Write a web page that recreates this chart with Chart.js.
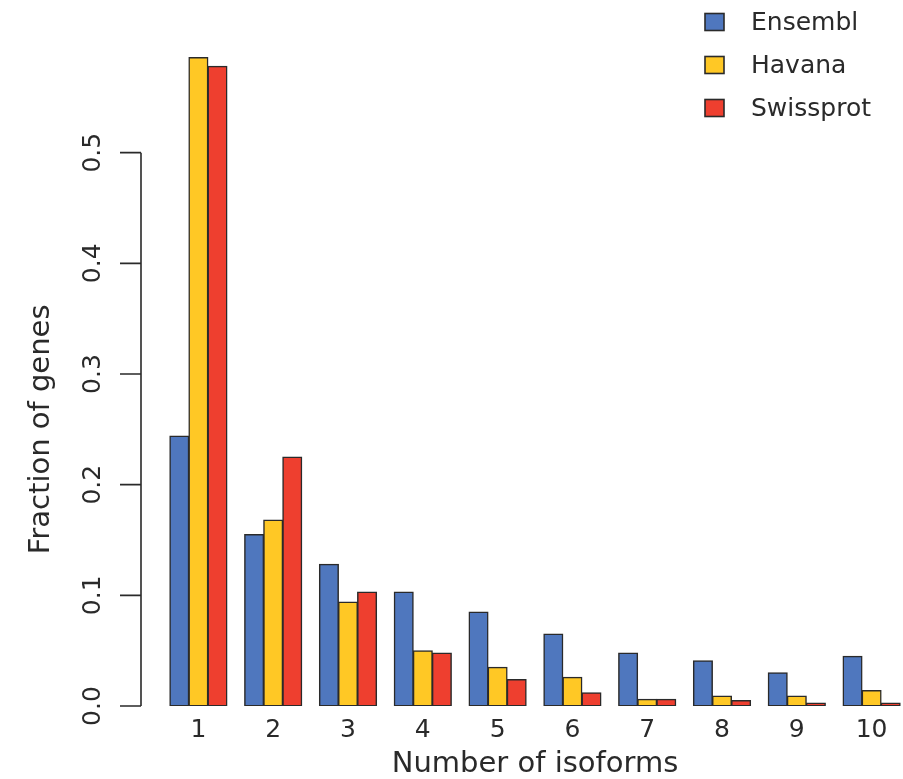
<!DOCTYPE html>
<html>
<head>
<meta charset="utf-8">
<script src="https://cdn.jsdelivr.net/npm/chart.js@4.4.0/dist/chart.umd.min.js"></script>
<style>
  html, body { margin: 0; padding: 0; background: #fff; overflow: hidden; }
  /* slightly wider than the window: the last bar runs off the right edge, as in the original */
  #wrap { width: 909px; height: 779px; position: relative; }
</style>
</head>
<body>
<div id="wrap"><canvas id="chart"></canvas></div>
<script>
// Number of isoforms per gene
const isoformLabels = ['1', '2', '3', '4', '5', '6', '7', '8', '9', '10'];

// Fraction of genes
const ensembl   = [0.244, 0.155, 0.128, 0.103, 0.085, 0.065, 0.048, 0.041, 0.030, 0.045];
const havana    = [0.586, 0.168, 0.094, 0.050, 0.035, 0.026, 0.006, 0.009, 0.009, 0.014];
const swissprot = [0.578, 0.225, 0.103, 0.048, 0.024, 0.012, 0.006, 0.005, 0.0015, 0.0015];

const yTickValues = [0, 0.1, 0.2, 0.3, 0.4, 0.5];
const yTickLabels = ['0.0', '0.1', '0.2', '0.3', '0.4', '0.5'];

const FONT = '"DejaVu Sans", "Liberation Sans", sans-serif';
const INK = '#2a2a2a';

// R-style y axis (line only spans the tick range), rotated labels, and the legend box
const baseAxisPlugin = {
  id: 'baseAxis',
  afterDraw(chart) {
    const ctx = chart.ctx;
    const y = chart.scales.y;
    const axisX = 141;
    const y0 = y.getPixelForValue(yTickValues[0]);
    const y1 = y.getPixelForValue(yTickValues[yTickValues.length - 1]);

    ctx.save();
    ctx.strokeStyle = INK;
    ctx.lineWidth = 1.6;
    ctx.beginPath();
    ctx.moveTo(axisX, y0);
    ctx.lineTo(axisX, y1);
    yTickValues.forEach(v => {
      const py = y.getPixelForValue(v);
      ctx.moveTo(axisX, py);
      ctx.lineTo(120, py);
    });
    ctx.stroke();

    // tick labels, rotated
    ctx.fillStyle = INK;
    ctx.font = '25px ' + FONT;
    ctx.textAlign = 'center';
    ctx.textBaseline = 'middle';
    yTickValues.forEach((v, i) => {
      const py = y.getPixelForValue(v);
      ctx.save();
      ctx.translate(93, py);
      ctx.rotate(-Math.PI / 2);
      ctx.fillText(yTickLabels[i], 0, 0);
      ctx.restore();
    });

    // axis title
    ctx.font = '29px ' + FONT;
    ctx.save();
    ctx.translate(41, (y0 + y1) / 2);
    ctx.rotate(-Math.PI / 2);
    ctx.fillText('Fraction of genes', 0, 0);
    ctx.restore();

    // legend
    ctx.font = '25px ' + FONT;
    ctx.textAlign = 'left';
    chart.data.datasets.forEach((ds, i) => {
      const cy = 22 + i * 43;
      ctx.fillStyle = ds.backgroundColor;
      ctx.fillRect(705, cy - 8.5, 19, 17);
      ctx.lineWidth = 1.6;
      ctx.strokeStyle = INK;
      ctx.strokeRect(705, cy - 8.5, 19, 17);
      ctx.fillStyle = INK;
      ctx.fillText(ds.label, 751, cy + 1);
    });
    ctx.restore();
  }
};

const barStyle = {
  borderColor: INK,
  borderWidth: 1.5,
  borderSkipped: false,
  inflateAmount: 0.5,
  minBarLength: 3,
  categoryPercentage: 0.765,
  barPercentage: 1.0
};

new Chart(document.getElementById('chart'), {
  type: 'bar',
  data: {
    labels: isoformLabels,
    datasets: [
      { label: 'Ensembl', data: ensembl, backgroundColor: '#4F77BE', ...barStyle },
      { label: 'Havana', data: havana, backgroundColor: '#FFC825', ...barStyle },
      { label: 'Swissprot', data: swissprot, backgroundColor: '#EE3F2F', ...barStyle }
    ]
  },
  options: {
    responsive: true,
    maintainAspectRatio: false,
    animation: false,
    layout: {
      padding: { left: 161, right: 0, top: 42, bottom: 0 }
    },
    plugins: {
      legend: { display: false },
      tooltip: { enabled: false }
    },
    scales: {
      x: {
        grid: { display: false, drawTicks: false },
        border: { display: false },
        afterFit(scale) {
          scale.height = 73;
        },
        ticks: {
          padding: 12,
          color: INK,
          font: { family: FONT, size: 25, lineHeight: 1 }
        },
        title: {
          display: true,
          text: 'Number of isoforms',
          color: INK,
          font: { family: FONT, size: 29, lineHeight: 1 },
          padding: { top: 0, bottom: 0 }
        }
      },
      y: {
        display: false,
        min: 0,
        max: 0.6
      }
    }
  },
  plugins: [baseAxisPlugin]
});
</script>
</body>
</html>
